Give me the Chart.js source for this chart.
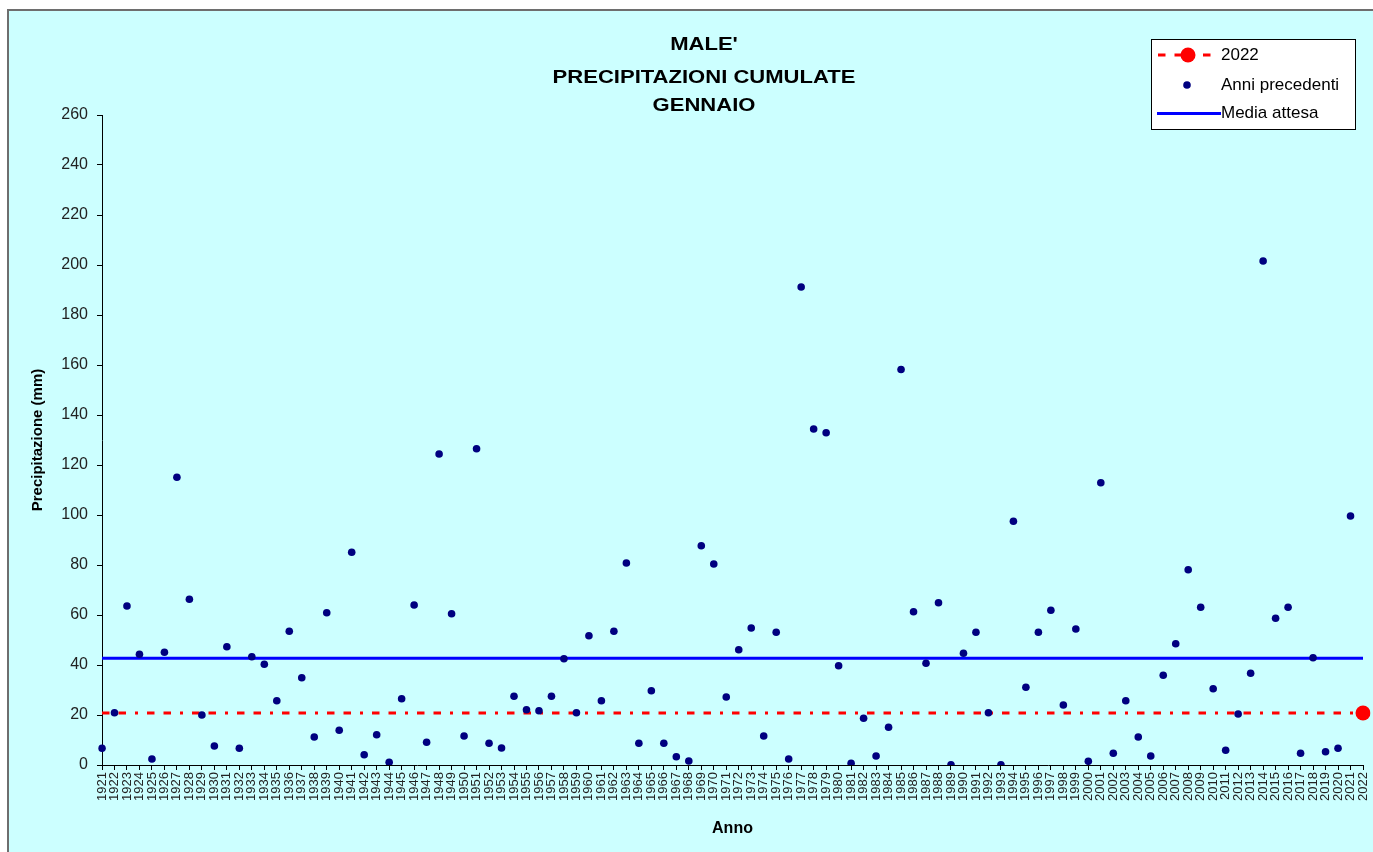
<!DOCTYPE html>
<html>
<head>
<meta charset="utf-8">
<script src="https://cdn.jsdelivr.net/npm/chart.js@4/dist/chart.umd.min.js"></script>
<style>
  html, body { margin: 0; padding: 0; background: #ffffff; }
  #wrap { position: relative; width: 1373px; height: 852px; }
  canvas { display: block; }
</style>
</head>
<body>
<div id="wrap"><canvas id="c" width="1373" height="852"></canvas></div>
<script>
// ---- DATA ----
const titolo = ["MALE'", "PRECIPITAZIONI CUMULATE", "GENNAIO"];
const anni = [];
for (let a = 1921; a <= 2022; a++) anni.push(String(a));

// Precipitazioni cumulate di gennaio (mm), anni 1921-2021
const anniPrecedenti = [
  6.7, 20.9, 63.6, 44.3, 2.4, 45.1, 115.1, 66.3, 20.0, 7.6,      // 1921-1930
  47.3, 6.7, 43.3, 40.3, 25.7, 53.5, 34.9, 11.2, 60.9, 13.9,     // 1931-1940
  85.1, 4.1, 12.1, 1.1, 26.5, 64.0, 9.1, 124.4, 60.5, 11.6,      // 1941-1950
  126.5, 8.7, 6.8, 27.5, 22.1, 21.7, 27.5, 42.5, 20.9, 51.7,     // 1951-1960
  25.7, 53.5, 80.8, 8.7, 29.7, 8.7, 3.3, 1.6, 87.7, 80.4,        // 1961-1970
  27.2, 46.1, 54.8, 11.6, 53.1, 2.4, 191.2, 134.4, 132.9, 39.7,  // 1971-1980
  0.7, 18.7, 3.6, 15.1, 158.2, 61.3, 40.7, 64.9, 0.1, 44.7,      // 1981-1990
  53.1, 20.9, 0.1, 97.5, 31.1, 53.1, 61.9, 24.0, 54.4, 1.5,      // 1991-2000
  112.9, 4.7, 25.7, 11.2, 3.6, 35.9, 48.5, 78.1, 63.1, 30.5,     // 2001-2010
  5.9, 20.4, 36.7, 201.6, 58.7, 63.1, 4.7, 42.9, 5.3, 6.7,       // 2011-2020
  99.6, null                                                     // 2021-2022
];
const valore2022 = 20.8;
const mediaAttesa = 42.7;
const yTicks = [0, 20, 40, 60, 80, 100, 120, 140, 160, 180, 200, 220, 240, 260];
const legendaVoci = ["2022", "Anni precedenti", "Media attesa"];

// ---- STYLE ----
const FONT = '"Liberation Sans", Arial, Helvetica, sans-serif';
const BG = '#CCFFFF';
const RED_DASH = [7.5, 9, 7.5, 9, 3, 9];

const bgPlugin = {
  id: 'bg',
  beforeDraw(chart) {
    const ctx = chart.ctx;
    ctx.save();
    ctx.fillStyle = '#ffffff';
    ctx.fillRect(0, 0, chart.width, chart.height);
    ctx.fillStyle = BG;
    ctx.fillRect(8, 10, chart.width, chart.height);
    ctx.strokeStyle = '#6e6e6e';
    ctx.lineWidth = 2;
    ctx.beginPath();
    ctx.moveTo(8, chart.height);
    ctx.lineTo(8, 10);
    ctx.lineTo(chart.width, 10);
    ctx.stroke();
    ctx.restore();
  }
};

const decorPlugin = {
  id: 'decor',
  afterDraw(chart) {
    const ctx = chart.ctx;
    // Title (stretched horizontally like the original)
    ctx.save();
    ctx.fillStyle = '#000000';
    ctx.font = 'bold 19px ' + FONT;
    ctx.textAlign = 'center';
    ctx.textBaseline = 'middle';
    const ys = [45, 78, 105.5];
    titolo.forEach((t, i) => {
      ctx.save();
      ctx.translate(704, ys[i]);
      ctx.scale(1.16, 1);
      ctx.fillText(t, 0, 0);
      ctx.restore();
    });
    ctx.restore();

    // Legend
    const ds = chart.data.datasets;
    const d2022 = ds.find(d => d.label === legendaVoci[0]);
    const dPrec = ds.find(d => d.label === legendaVoci[1]);
    const dMedia = ds.find(d => d.label === legendaVoci[2]);
    ctx.save();
    ctx.fillStyle = '#ffffff';
    ctx.fillRect(1151.5, 39.5, 204, 90);
    ctx.strokeStyle = '#000000';
    ctx.lineWidth = 1;
    ctx.strokeRect(1151.5, 39.5, 204, 90);
    // 2022
    ctx.strokeStyle = d2022.borderColor;
    ctx.lineWidth = d2022.borderWidth;
    ctx.setLineDash(RED_DASH);
    ctx.beginPath();
    ctx.moveTo(1158, 55); ctx.lineTo(1219, 55);
    ctx.stroke();
    ctx.setLineDash([]);
    ctx.fillStyle = d2022.pointBackgroundColor;
    ctx.beginPath(); ctx.arc(1188, 55, 7.5, 0, Math.PI * 2); ctx.fill();
    // Anni precedenti
    ctx.fillStyle = dPrec.pointBackgroundColor;
    ctx.beginPath(); ctx.arc(1187, 85, 3.8, 0, Math.PI * 2); ctx.fill();
    // Media attesa
    ctx.strokeStyle = dMedia.borderColor;
    ctx.lineWidth = dMedia.borderWidth;
    ctx.beginPath(); ctx.moveTo(1157, 113.5); ctx.lineTo(1221, 113.5); ctx.stroke();
    // texts
    ctx.fillStyle = '#000000';
    ctx.font = '17px ' + FONT;
    ctx.textAlign = 'left';
    ctx.textBaseline = 'middle';
    ctx.fillText(legendaVoci[0], 1221, 55);
    ctx.fillText(legendaVoci[1], 1221, 85);
    ctx.fillText(legendaVoci[2], 1221, 113);
    ctx.restore();
  }
};

const last = anni.length - 1;

new Chart(document.getElementById('c'), {
  type: 'line',
  data: {
    labels: anni,
    datasets: [
      {
        label: legendaVoci[1],
        data: anniPrecedenti,
        showLine: false,
        pointRadius: 3.8,
        pointHoverRadius: 3.8,
        pointStyle: 'circle',
        pointBackgroundColor: '#000080',
        pointBorderWidth: 0,
        borderColor: '#000080',
        backgroundColor: '#000080'
      },
      {
        label: legendaVoci[0],
        data: [{ x: anni[0], y: valore2022 }, { x: anni[last], y: valore2022 }],
        borderColor: '#FF0000',
        borderWidth: 3,
        borderDash: RED_DASH,
        pointRadius: [0, 7.5],
        pointHoverRadius: [0, 7.5],
        pointBackgroundColor: '#FF0000',
        pointBorderWidth: 0,
        fill: false
      },
      {
        label: legendaVoci[2],
        data: [{ x: anni[0], y: mediaAttesa }, { x: anni[last], y: mediaAttesa }],
        borderColor: '#0000FF',
        borderWidth: 3,
        pointRadius: 0,
        pointBackgroundColor: '#0000FF',
        fill: false
      }
    ]
  },
  options: {
    responsive: false,
    animation: false,
    devicePixelRatio: 1,
    layout: { padding: { left: 0, right: 10, top: 115, bottom: 0 } },
    plugins: {
      legend: { display: false },
      title: { display: false },
      tooltip: { enabled: false }
    },
    scales: {
      x: {
        type: 'category',
        offset: false,
        afterFit(scale) {
          scale.height = 87;
          scale.paddingLeft = 0;
          scale.paddingRight = 0;
        },
        grid: { display: true, drawOnChartArea: false, tickLength: 5, color: '#000000' },
        border: { display: true, color: '#000000', width: 1 },
        ticks: {
          autoSkip: false,
          minRotation: 90,
          maxRotation: 90,
          padding: 2,
          color: '#222222',
          font: { family: FONT, size: 13 }
        },
        title: {
          display: true,
          text: 'Anno',
          color: '#000000',
          font: { family: FONT, size: 16, weight: 'bold' },
          padding: { top: 0, bottom: 14 }
        }
      },
      y: {
        min: 0,
        max: 260,
        afterFit(scale) { scale.width = 102; },
        afterBuildTicks(scale) { scale.ticks = yTicks.map(v => ({ value: v })); },
        grid: { display: true, drawOnChartArea: false, tickLength: 5, color: '#000000' },
        border: { display: true, color: '#000000', width: 1 },
        ticks: {
          padding: 9,
          color: '#222222',
          font: { family: FONT, size: 16 }
        },
        title: {
          display: true,
          text: 'Precipitazione (mm)',
          color: '#000000',
          font: { family: FONT, size: 15, weight: 'bold' },
          padding: { top: 29, bottom: 0 }
        }
      }
    }
  },
  plugins: [bgPlugin, decorPlugin]
});
</script>
</body>
</html>
